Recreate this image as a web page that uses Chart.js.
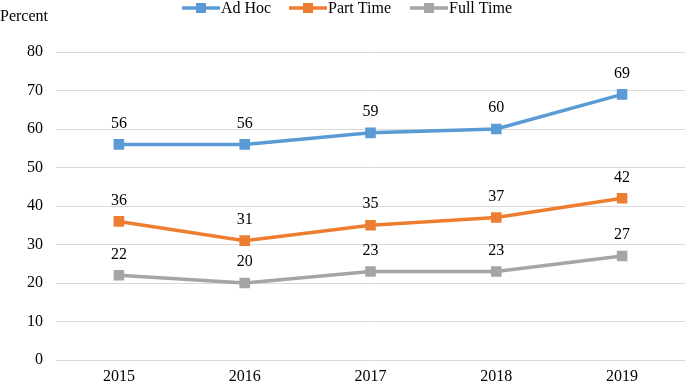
<!DOCTYPE html>
<html><head><meta charset="utf-8">
<script src="https://cdn.jsdelivr.net/npm/chart.js@4/dist/chart.umd.min.js"></script>
<style>html,body{margin:0;padding:0;background:#fff;overflow:hidden}canvas{display:block}</style>
</head><body><canvas id="c" width="685" height="384" style="width:685px;height:384px"></canvas>
<script>
const years = ["2015","2016","2017","2018","2019"];
const adHoc = [56,56,59,60,69];
const partTime = [36,31,35,37,42];
const fullTime = [22,20,23,23,27];
const yTicks = [0,10,20,30,40,50,60,70,80];
const seriesNames = ["Ad Hoc","Part Time","Full Time"];
const colors = ["#5B9BD5","#ED7D31","#A5A5A5"];
const FONT = "'Liberation Serif','Times New Roman',serif";

const labelPlugin = {
  id:'labels',
  afterDatasetsDraw(chart){
    const ctx = chart.ctx;
    ctx.save();
    ctx.font = "16px " + FONT;
    ctx.fillStyle = "#000";
    ctx.textAlign = "center";
    ctx.textBaseline = "middle";
    chart.data.datasets.forEach((ds,i)=>{
      const meta = chart.getDatasetMeta(i);
      meta.data.forEach((pt,j)=>{
        ctx.fillText(String(ds.data[j]), pt.x, pt.y - 21);
      });
    });
    ctx.textAlign = "left";
    ctx.fillText("Percent", 0, 17);
    const starts = [182, 289, 410];
    seriesNames.forEach((n,i)=>{
      const x = starts[i], y = 8;
      ctx.strokeStyle = colors[i];
      ctx.lineWidth = 3.5;
      ctx.beginPath(); ctx.moveTo(x,y); ctx.lineTo(x+38,y); ctx.stroke();
      ctx.fillStyle = colors[i];
      ctx.fillRect(x+19-5, y-5, 10, 10);
      ctx.fillStyle = "#000";
      ctx.fillText(n, x+39, y+1);
    });
    ctx.restore();
  }
};

new Chart(document.getElementById('c'), {
  type:'line',
  data:{
    labels: years,
    datasets:[adHoc,partTime,fullTime].map((d,i)=>({
      label: seriesNames[i], data: d,
      borderColor: colors[i], backgroundColor: colors[i],
      borderWidth: 3.5, pointStyle:'rect', pointRadius:5, pointHoverRadius:5,
      tension:0
    }))
  },
  options:{
    responsive:false, animation:false,
    layout:{autoPadding:false, padding:{top:52,right:0,left:0,bottom:0}},
    plugins:{legend:{display:false}, tooltip:{enabled:false}},
    scales:{
      x:{
        offset:true,
        grid:{display:false, drawTicks:false},
        border:{display:false},
        ticks:{font:{family:FONT,size:16}, color:"#000", padding:7},
        afterFit(s){ s.height = 24; s.paddingLeft = 0; s.paddingRight = 0; }
      },
      y:{
        min:0, max:80,
        afterBuildTicks(s){ s.ticks = yTicks.map(v=>({value:v})); },
        grid:{color:"#d9d9d9", lineWidth:1, drawTicks:false},
        border:{display:false},
        ticks:{font:{family:FONT,size:16}, color:"#000", padding:13},
        afterFit(s){ s.width = 56; s.paddingTop = 0; s.paddingBottom = 0; }
      }
    }
  },
  plugins:[labelPlugin]
});
</script></body></html>
